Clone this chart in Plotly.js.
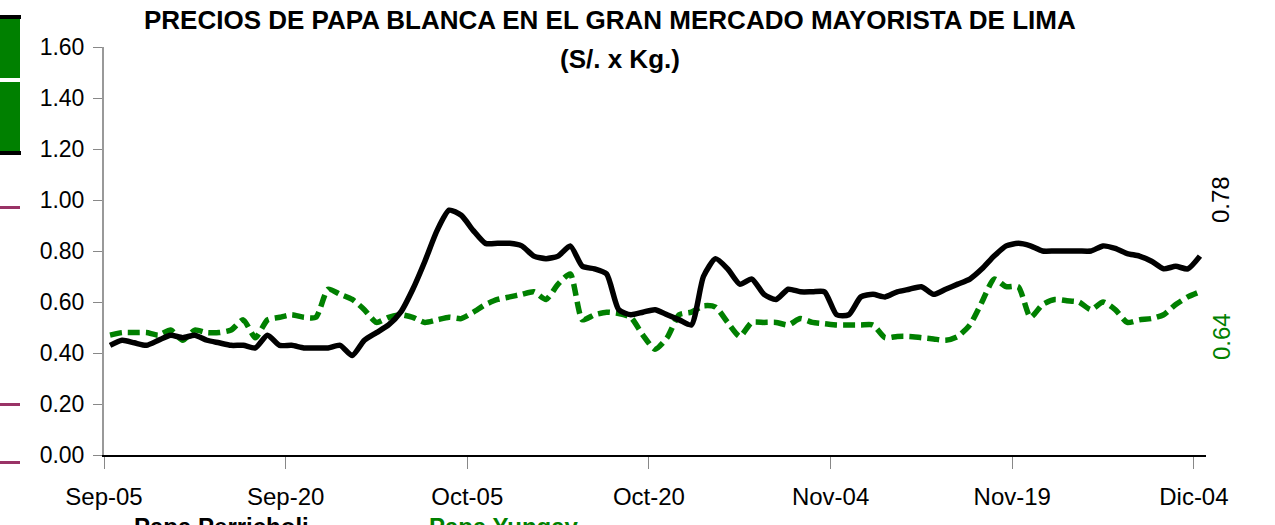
<!DOCTYPE html>
<html>
<head>
<meta charset="utf-8">
<script src="https://cdn.plot.ly/plotly-3.0.1.min.js"></script>
<style>html,body{margin:0;padding:0;background:#fff;}#chart{width:1275px;height:525px;}</style>
</head>
<body>
<div id="chart"></div>
<script>
// ---- data ----
const startDate = "2009-09-05";
const nDays = 91;
const tickDates = ["2009-09-05","2009-09-20","2009-10-05","2009-10-20","2009-11-04","2009-11-19","2009-12-04"];
const tickLabels = ["Sep-05","Sep-20","Oct-05","Oct-20","Nov-04","Nov-19","Dic-04"];
const titleLines = ["PRECIOS DE PAPA BLANCA EN EL GRAN MERCADO MAYORISTA DE LIMA", "(S/. x Kg.)"];
const seriesNames = ["Papa Perricholi", "Papa Yungay"];

// black, solid
const precioActual = [
0.43,0.45,0.44,0.43,0.45,0.47,0.46,0.47,0.45,0.44,
0.43,0.43,0.42,0.47,0.43,0.43,0.42,0.42,0.42,0.43,
0.39,0.45,0.48,0.51,0.56,0.65,0.76,0.88,0.96,0.94,
0.88,0.83,0.83,0.83,0.82,0.78,0.77,0.78,0.82,0.74,
0.73,0.71,0.57,0.55,0.56,0.57,0.55,0.53,0.51,0.70,
0.77,0.73,0.67,0.69,0.63,0.61,0.65,0.64,0.64,0.64,
0.55,0.55,0.62,0.63,0.62,0.64,0.65,0.66,0.63,0.65,
0.67,0.69,0.73,0.78,0.82,0.83,0.82,0.80,0.80,0.80,
0.80,0.80,0.82,0.81,0.79,0.78,0.76,0.73,0.74,0.73,
0.78];

// green, dotted
const precioAnterior = [
0.47,0.48,0.48,0.48,0.47,0.49,0.45,0.49,0.48,0.48,
0.49,0.53,0.46,0.53,0.54,0.55,0.54,0.54,0.65,0.63,
0.61,0.57,0.52,0.54,0.55,0.54,0.52,0.53,0.54,0.535,
0.56,0.59,0.61,0.62,0.63,0.64,0.61,0.67,0.71,0.53,
0.55,0.56,0.555,0.54,0.47,0.415,0.46,0.55,0.56,0.585,
0.58,0.52,0.465,0.52,0.52,0.52,0.51,0.535,0.52,0.515,
0.51,0.51,0.51,0.51,0.46,0.465,0.465,0.46,0.455,0.45,
0.465,0.51,0.60,0.69,0.66,0.66,0.54,0.59,0.61,0.605,
0.60,0.57,0.60,0.57,0.52,0.53,0.535,0.55,0.59,0.62,
0.64];

// ---- build x values (each day centred between ticks) ----
function addDays(s, k){
  const d = new Date(s + "T00:00:00Z");
  d.setUTCDate(d.getUTCDate() + k);
  return d.toISOString().slice(0,10);
}
const dias = [];
for (let i = 0; i < nDays; i++) dias.push(addDays(startDate, i) + " 12:00");

const FONT = '"Liberation Sans", Arial, sans-serif';

// geometry helpers for decorations outside the plot area
const W = 1275, H = 525, ML = 104, MR = 69, MT = 47, MB = 70;
const PW = W - ML - MR, PH = H - MT - MB;
const px = x => (x - ML) / PW;
const py = y => (H - MB - y) / PH;

const traces = [
  {
    name: seriesNames[1],
    x: dias, y: precioAnterior, type: "scatter", mode: "lines",
    line: {color: "#008000", width: 5.5, dash: "12px,6px", shape: "spline", smoothing: 0.6},
    hoverinfo: "skip", showlegend: false
  },
  {
    name: seriesNames[0],
    x: dias, y: precioActual, type: "scatter", mode: "lines",
    line: {color: "#000000", width: 5.5, shape: "spline", smoothing: 0.6},
    hoverinfo: "skip", showlegend: false
  }
];

const shapes = [
  {type:"rect", xref:"paper", yref:"paper", x0:px(0), x1:px(20), y0:py(78), y1:py(17), fillcolor:"#008000", line:{width:0}},
  {type:"rect", xref:"paper", yref:"paper", x0:px(0), x1:px(20), y0:py(152), y1:py(82), fillcolor:"#008000", line:{width:0}},
  {type:"rect", xref:"paper", yref:"paper", x0:px(0), x1:px(21), y0:py(19), y1:py(15), fillcolor:"#000", line:{width:0}},
  {type:"rect", xref:"paper", yref:"paper", x0:px(0), x1:px(21), y0:py(155), y1:py(151), fillcolor:"#000", line:{width:0}},
  {type:"rect", xref:"paper", yref:"paper", x0:px(0), x1:px(20), y0:py(209), y1:py(206), fillcolor:"#993366", line:{width:0}},
  {type:"rect", xref:"paper", yref:"paper", x0:px(0), x1:px(20), y0:py(406), y1:py(403), fillcolor:"#993366", line:{width:0}},
  {type:"rect", xref:"paper", yref:"paper", x0:px(0), x1:px(20), y0:py(464), y1:py(461), fillcolor:"#993366", line:{width:0}}
];

const lastA = precioActual[precioActual.length - 1];
const lastB = precioAnterior[precioAnterior.length - 1];

const annotations = [
  {text: "<b>" + titleLines[0] + "</b>", xref:"paper", yref:"paper", x: px(610), y: py(20),
   showarrow:false, xanchor:"center", yanchor:"middle", font:{family:FONT, size:26, color:"#000"}},
  {text: "<b>" + titleLines[1] + "</b>", xref:"paper", yref:"paper", x: px(620), y: py(59),
   showarrow:false, xanchor:"center", yanchor:"middle", font:{family:FONT, size:26, color:"#000"}},
  {text: lastA.toFixed(2), xref:"paper", yref:"paper", x: px(1220), y: py(200), showarrow:false,
   textangle:-90, font:{family:FONT, size:24, color:"#000"}, xanchor:"center", yanchor:"middle"},
  {text: lastB.toFixed(2), xref:"paper", yref:"paper", x: px(1222), y: py(337), showarrow:false,
   textangle:-90, font:{family:FONT, size:24, color:"#008000"}, xanchor:"center", yanchor:"middle"},
  // legend entries, cut by the bottom edge as in the reference
  {text: "<b>" + seriesNames[0] + "</b>", xref:"paper", yref:"paper", x: px(133), y: py(512),
   showarrow:false, xanchor:"left", yanchor:"top", borderpad:0, font:{family:FONT, size:24, color:"#000"}},
  {text: "<b>" + seriesNames[1] + "</b>", xref:"paper", yref:"paper", x: px(428), y: py(512),
   showarrow:false, xanchor:"left", yanchor:"top", borderpad:0, font:{family:FONT, size:24, color:"#008000"}}
];

const layout = {
  width: W, height: H,
  margin: {l: ML, r: MR, t: MT, b: MB, pad: 0},
  paper_bgcolor: "#fff", plot_bgcolor: "#fff",
  showlegend: false,
  xaxis: {
    type: "date",
    range: [startDate, addDays(startDate, nDays)],
    tickvals: tickDates, ticktext: tickLabels,
    ticks: "outside", ticklen: 12, tickwidth: 1, tickcolor: "#888",
    ticklabelstandoff: 8,
    showline: true, linecolor: "#000", linewidth: 1.5,
    showgrid: false, zeroline: false,
    tickfont: {family: FONT, size: 24, color: "#000"},
    fixedrange: true
  },
  yaxis: {
    range: [0, 1.6], dtick: 0.2, tick0: 0, tickformat: ".2f",
    ticks: "outside", ticklen: 9, tickwidth: 1, tickcolor: "#888",
    ticklabelstandoff: 4,
    showline: true, linecolor: "#999", linewidth: 2,
    showgrid: false, zeroline: false,
    tickfont: {family: FONT, size: 23, color: "#000"},
    fixedrange: true
  },
  shapes: shapes,
  annotations: annotations
};

Plotly.newPlot("chart", traces, layout, {staticPlot: true, displayModeBar: false});
</script>
</body>
</html>
